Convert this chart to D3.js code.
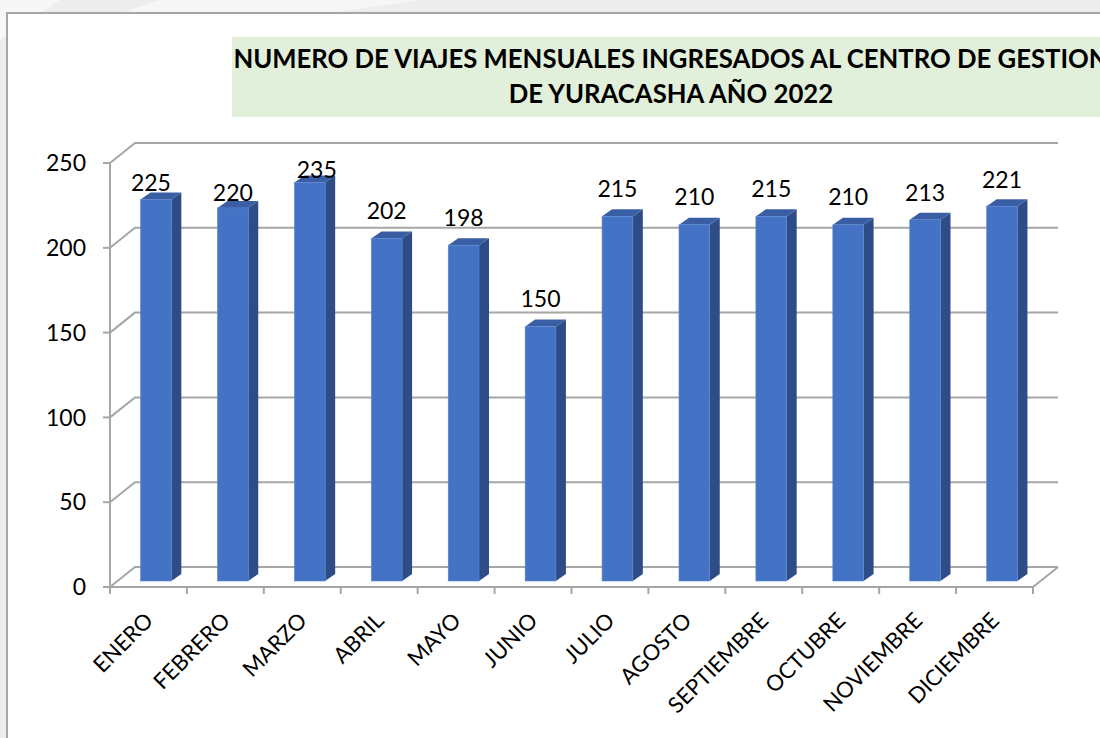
<!DOCTYPE html>
<html>
<head>
<meta charset="utf-8">
<script src="https://cdn.jsdelivr.net/npm/d3@7"></script>
<style>
  body { margin: 0; background: #ececec; }
  svg { display: block; }
</style>
</head>
<body>
<svg width="1100" height="738"></svg>
<script>
const months = ['ENERO', 'FEBRERO', 'MARZO', 'ABRIL', 'MAYO', 'JUNIO', 'JULIO',
  'AGOSTO', 'SEPTIEMBRE', 'OCTUBRE', 'NOVIEMBRE', 'DICIEMBRE']
const trips = [225, 220, 235, 202, 198, 150, 215, 210, 215, 210, 213, 221]
const yTicks = [0, 50, 100, 150, 200, 250]
const titleLines = ['NUMERO DE VIAJES MENSUALES INGRESADOS AL CENTRO DE GESTION',
  'DE YURACASHA AÑO 2022']
// how far each value label sits above its bar (some were dragged in the original)
const labelLift = [8, 7, 4, 19, 19, 20, 19, 20, 19, 20, 19, 18]
const labelShift = [-5, 0, 7, 0, 0, 0, 0, 0, 0, 0, 0, 0]

const svg = d3.select('svg')
const font = 'Lato, "Liberation Sans", sans-serif'

// page background + chart area
svg.append('rect').attr('x', 0).attr('y', 0).attr('width', 1100).attr('height', 738).attr('fill', '#ededed')
svg.append('path').attr('d', 'M0,0 L60,0 L0,40 Z').attr('fill', '#f7f7f7')
svg.append('path').attr('d', 'M160,0 L420,0 L330,13 L120,13 Z').attr('fill', '#f6f6f6')
svg.append('rect').attr('x', 7).attr('y', 13).attr('width', 1100).attr('height', 740)
  .attr('fill', '#fff').attr('stroke', '#a6a6a6').attr('stroke-width', 2)

// 3d geometry
const depth = { dx: 25, dy: -20 }
const x = d3.scaleBand().domain(months).range([110, 1033])
const y = d3.scaleLinear().domain([0, 250]).range([587, 163])
const barPlane = { dx: 7.5, dy: -6 }
const barDepth = { dx: 10, dy: -7 }
const barW = x.bandwidth() * 0.4

const grid = svg.append('g').attr('stroke', '#a6a6a6').attr('stroke-width', 2).attr('fill', 'none')
yTicks.forEach(t => {
  const yf = y(t)
  grid.append('path')
    .attr('d', `M110,${yf} L${110 + depth.dx},${yf + depth.dy} L${1033 + depth.dx},${yf + depth.dy}`)
})
// floor front edge and right diagonal
grid.append('path')
  .attr('d', `M110,${y(0)} L1033,${y(0)} L${1033 + depth.dx},${y(0) + depth.dy}`)
// vertical axis
grid.append('line').attr('x1', 110).attr('x2', 110).attr('y1', y(250)).attr('y2', y(0))
// y ticks
yTicks.forEach(t => {
  grid.append('line').attr('x1', 103).attr('x2', 110).attr('y1', y(t)).attr('y2', y(t))
})
// x ticks
d3.range(months.length + 1).forEach(i => {
  const xt = 110 + i * x.step()
  grid.append('line').attr('x1', xt).attr('x2', xt).attr('y1', y(0)).attr('y2', y(0) + 7)
})

// y labels
svg.append('g').selectAll('text').data(yTicks).join('text')
  .attr('x', 86).attr('y', d => y(d)).attr('dy', '0.36em')
  .attr('text-anchor', 'end').attr('font-family', font).attr('font-size', 23)
  .attr('fill', '#000').text(d => d)

// bars
const bars = svg.append('g').selectAll('g').data(months).join('g')
bars.each(function (m, i) {
  const g = d3.select(this)
  const x0 = x(m) + (x.bandwidth() - barW) / 2 + barPlane.dx
  const x1 = x0 + barW
  const yb = y(0) + barPlane.dy
  const yt = y(trips[i]) + barPlane.dy
  const ddx = barDepth.dx, ddy = barDepth.dy
  // side
  g.append('path').attr('d', `M${x1},${yt} L${x1 + ddx},${yt + ddy} L${x1 + ddx},${yb + ddy} L${x1},${yb} Z`)
    .attr('fill', '#2e4d86')
  // top
  g.append('path').attr('d', `M${x0},${yt} L${x0 + ddx},${yt + ddy} L${x1 + ddx},${yt + ddy} L${x1},${yt} Z`)
    .attr('fill', '#3a5ea4')
  // front
  g.append('rect').attr('x', x0).attr('y', yt).attr('width', barW).attr('height', yb - yt)
    .attr('fill', '#4472c4').attr('stroke', '#5b86d3').attr('stroke-width', 0.6)
  // value label
  g.append('text').attr('x', x0 + barW / 2 + labelShift[i]).attr('y', yt - labelLift[i])
    .attr('text-anchor', 'middle').attr('font-family', font).attr('font-size', 23)
    .attr('fill', '#000').text(trips[i])
})

// x labels
svg.append('g').selectAll('text').data(months).join('text')
  .attr('transform', d => `translate(${x(d) + x.bandwidth() / 2 + 6},${y(0) + 35}) rotate(-45)`)
  .attr('text-anchor', 'end').attr('font-family', font).attr('font-size', 22)
  .attr('fill', '#000').text(d => d)

// title
svg.append('rect').attr('x', 232).attr('y', 37).attr('width', 880).attr('height', 80).attr('fill', '#e2efda')
svg.append('g').selectAll('text').data(titleLines).join('text')
  .attr('x', 671).attr('y', (d, i) => 68 + i * 35)
  .attr('text-anchor', 'middle').attr('font-family', font).attr('font-weight', 'bold')
  .attr('font-size', 25.7).attr('fill', '#000').text(d => d)
</script>
</body>
</html>
